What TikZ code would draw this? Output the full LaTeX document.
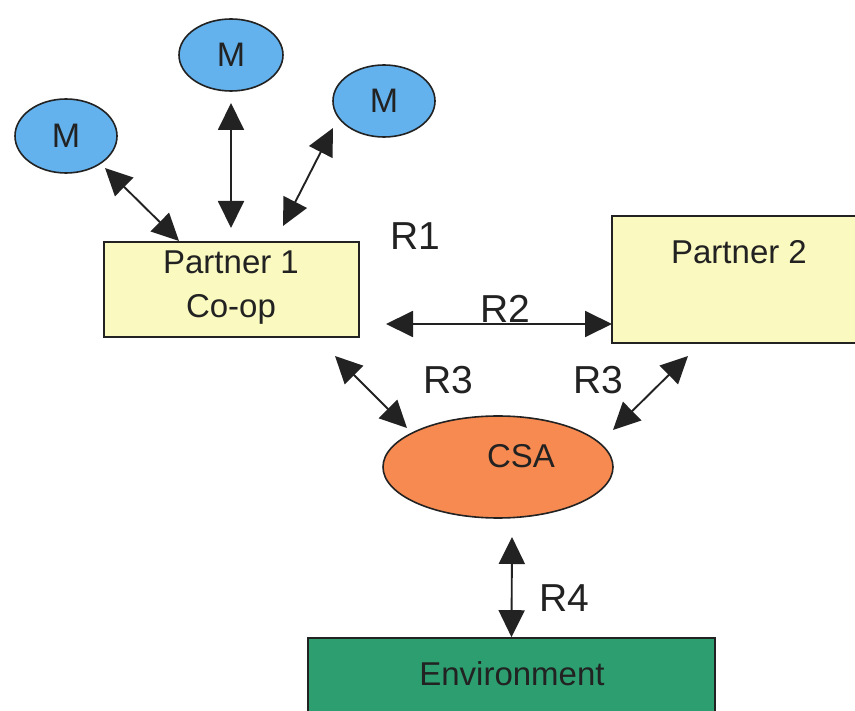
\documentclass[tikz,border=0pt]{standalone}
\usepackage{fontspec}
\setmainfont{Liberation Sans}
\usetikzlibrary{shapes.geometric,arrows.meta}

\definecolor{mblue}{RGB}{99,178,238}
\definecolor{pyellow}{RGB}{250,250,192}
\definecolor{csaorange}{RGB}{247,138,80}
\definecolor{envgreen}{RGB}{44,158,112}
\definecolor{ink}{RGB}{34,34,34}

\tikzset{
  member/.style={ellipse, draw=ink, line width=1.6pt, fill=mblue,
    minimum width=#1, minimum height=72pt, inner sep=0pt,
    font=\fontsize{34}{35}\selectfont, text=ink},
  partnerbox/.style={rectangle, draw=ink, line width=1.6pt, fill=pyellow,
    inner sep=0pt},
  boxtext/.style={text=ink, font=\fontsize{33}{44}\selectfont, inner sep=0pt, align=center},
  rellabel/.style={text=ink, font=\fontsize{39}{40}\selectfont, inner sep=0pt},
  link/.style={draw=ink, line width=1.9pt,
    {Triangle[length=27pt,width=26pt]}-{Triangle[length=27pt,width=26pt]}},
}

\begin{document}
\begin{tikzpicture}[x=1pt,y=-1pt]
  \useasboundingbox (0,0) rectangle (855,711);
  \fill[white] (0,0) rectangle (855,711);
  \clip (0,0) rectangle (855,711);

  % members of the co-op
  \node[member=102pt, minimum height=74pt] (m1) at (66,136) {M};
  \node[member=104pt] (m2) at (231,55) {M};
  \node[member=102pt] (m3) at (384,101) {M};

  % partners
  \node[partnerbox, minimum width=255pt, minimum height=95pt] (p1) at (231.5,289.5) {};
  \node[boxtext] (p1text) at (231,288) {Partner 1\\Co-op};
  \node[partnerbox, minimum width=260pt, minimum height=127pt] (p2) at (742,279.5) {};
  \node[boxtext] (p2text) at (739,252) {Partner 2};

  % CSA and environment
  \node[ellipse, draw=ink, line width=1.6pt, fill=csaorange,
        minimum width=230pt, minimum height=102pt, inner sep=0pt] (csa) at (498,467) {};
  \node[boxtext] (csatext) at (521,456) {CSA};
  \node[rectangle, draw=ink, line width=1.6pt, fill=envgreen,
        minimum width=407pt, minimum height=122pt, inner sep=0pt] (env) at (511.5,699) {};
  \node[boxtext] (envtext) at (512,674) {Environment};

  % relationships
  \draw[link] ([shift={(39,32)}]m1.center) -- ([shift={(-52.5,-48.5)}]p1.center);
  \draw[link] ([shift={(0,48)}]m2.center) -- ([shift={(-0.5,-61.5)}]p1.center);
  \draw[link] ([shift={(-51,27)}]m3.center) -- ([shift={(51.5,-63.5)}]p1.center);
  \draw[link] ([shift={(154.5,34.5)}]p1.center) -- ([shift={(-130,44.5)}]p2.center);
  \draw[link] ([shift={(103.5,66.5)}]p1.center) -- ([shift={(-91,-39)}]csa.center);
  \draw[link] ([shift={(-54,76.5)}]p2.center) -- ([shift={(115,-37)}]csa.center);
  \draw[link] ([shift={(14,70)}]csa.center) -- (env.north);

  % relationship labels
  \node[rellabel] (r1) at (415,236) {R1};
  \node[rellabel] (r2) at (505,309) {R2};
  \node[rellabel] (r3a) at (448,380) {R3};
  \node[rellabel] (r3b) at (598,380) {R3};
  \node[rellabel] (r4) at (564,598) {R4};
\end{tikzpicture}
\end{document}
